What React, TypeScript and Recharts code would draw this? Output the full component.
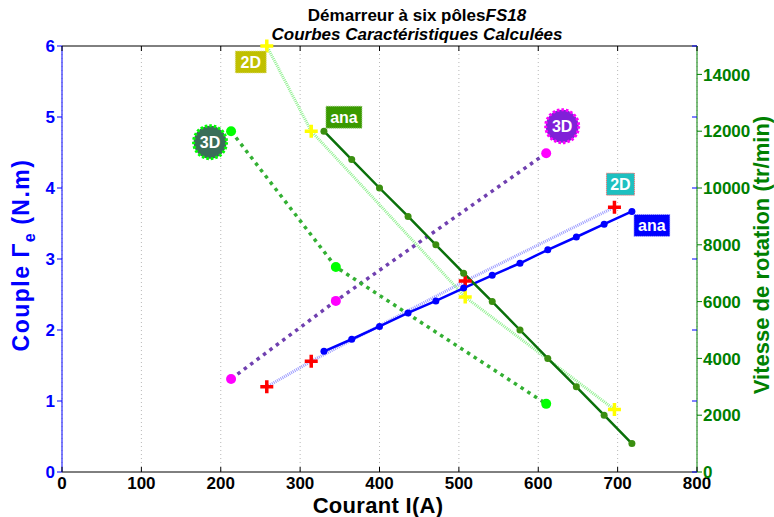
import React from "react";
import { ComposedChart, Line, XAxis, YAxis, CartesianGrid, ReferenceLine } from "recharts";

// courant (A) sur l'axe x
const xTicks = [0, 100, 200, 300, 400, 500, 600, 700, 800];
const coupleTicks = [0, 1, 2, 3, 4, 5, 6];
const speedTicks = [0, 2000, 4000, 6000, 8000, 10000, 12000, 14000];

// modèle analytique
const anaCurrent = [330, 365, 400, 436, 471, 506, 542, 577, 612, 648, 683, 718];
const anaCouple = [1.7, 1.87, 2.05, 2.24, 2.41, 2.59, 2.77, 2.94, 3.13, 3.31, 3.49, 3.67];
const anaSpeed = [12000, 11000, 10000, 9000, 8000, 7000, 6000, 5000, 4000, 3000, 2000, 1000];

// éléments finis 2D
const fe2dCurrent = [258, 314, 508, 696];
const fe2dCouple = [1.2, 1.56, 2.69, 3.73];
const fe2dSpeed = [15000, 12000, 6160, 2200];

// éléments finis 3D
const fe3dCurrent = [213, 345, 610];
const fe3dCouple = [1.31, 2.41, 4.49];
const fe3dSpeed = [12000, 7220, 2400];

const FONT = '"Liberation Sans", Arial, Helvetica, sans-serif';
const PLOT_TOP = 46;
const PLOT_BOTTOM = 472;
const PLOT_RIGHT = 697;
const BLUE = "#0000ff";
const GREEN = "#008000";

const zip = (xs: number[], ys: number[]) => xs.map((x, i) => ({ x, y: ys[i] }));

type TagDef = {
  index: number;
  dx: number;
  dy: number;
  text: string;
  shape: "box" | "circle";
  fill: string;
  edge: string;
  w?: number;
};

function Tag({ x, y, t }: { x: number; y: number; t: TagDef }) {
  const cx = x + t.dx;
  const cy = y + t.dy;
  if (t.shape === "circle") {
    return (
      <g>
        <circle cx={cx} cy={cy} r={16.5} fill={t.fill} stroke={t.edge} strokeWidth={3} strokeDasharray="2.5 2" />
        <text x={cx} y={cy} dy="0.36em" textAnchor="middle" fill="#fff" fontFamily={FONT} fontWeight="bold" fontSize={16}>
          {t.text}
        </text>
      </g>
    );
  }
  const w = t.w ?? 30;
  const h = 22;
  return (
    <g>
      <rect x={cx - w / 2} y={cy - h / 2} width={w} height={h} fill={t.fill} stroke={t.edge} strokeWidth={1} strokeDasharray="1 1" />
      <text x={cx} y={cy} dy="0.36em" textAnchor="middle" fill="#fff" fontFamily={FONT} fontWeight="bold" fontSize={16}>
        {t.text}
      </text>
    </g>
  );
}

const makeDot = (kind: "circle" | "cross", color: string, r: number, tag?: TagDef) => (p: any) => {
  const { cx, cy, index } = p;
  const mark =
    kind === "cross" ? (
      <path d={`M${cx - 6.5},${cy}H${cx + 6.5}M${cx},${cy - 6.5}V${cy + 6.5}`} stroke={color} strokeWidth={3.5} />
    ) : (
      <circle cx={cx} cy={cy} r={r} fill={color} stroke="none" />
    );
  return (
    <g key={`d-${index}`}>
      {mark}
      {tag && tag.index === index ? <Tag x={cx} y={cy} t={tag} /> : null}
    </g>
  );
};

function XTick(props: any) {
  const { x, y, payload } = props;
  return (
    <g>
      <line x1={x} x2={x} y1={PLOT_BOTTOM} y2={PLOT_BOTTOM - 5} stroke="#000" />
      <line x1={x} x2={x} y1={PLOT_TOP} y2={PLOT_TOP + 5} stroke="#000" />
      <text x={x} y={y} dy="0.75em" textAnchor="middle" fill="#000" fontFamily={FONT} fontWeight="bold" fontSize={17}>
        {payload.value}
      </text>
    </g>
  );
}

function LeftTick(props: any) {
  const { x, y, payload } = props;
  return (
    <g>
      <line x1={PLOT_RIGHT - 5} x2={PLOT_RIGHT} y1={y} y2={y} stroke={BLUE} />
      <text x={x} y={y} dy="0.36em" textAnchor="end" fill={BLUE} fontFamily={FONT} fontWeight="bold" fontSize={17}>
        {payload.value}
      </text>
    </g>
  );
}

function RightTick(props: any) {
  const { x, y, payload } = props;
  return (
    <text x={x} y={y} dy="0.36em" textAnchor="start" fill={GREEN} fontFamily={FONT} fontWeight="bold" fontSize={17}>
      {payload.value}
    </text>
  );
}

const CoupleTitle = () => (
  <text
    transform="translate(29,255) rotate(-90)"
    textAnchor="middle"
    fill={BLUE}
    fontFamily={FONT}
    fontWeight="bold"
    fontSize={23}
    letterSpacing={1.5}
  >
    Couple
    <tspan dx={7}>Γ</tspan>
    <tspan dy={6} fontSize={16}>e</tspan>
    <tspan dy={-6} dx={7}>(N.m)</tspan>
  </text>
);

const SpeedTitle = () => (
  <text transform="translate(769,255) rotate(-90)" textAnchor="middle" fill={GREEN} fontFamily={FONT} fontWeight="bold" fontSize={22}>
    Vitesse de rotation (tr/min)
  </text>
);

const CurrentTitle = () => (
  <text x={378} y={512.5} textAnchor="middle" fill="#000" fontFamily={FONT} fontWeight="bold" fontSize={22} letterSpacing={0.3}>
    Courant I(A)
  </text>
);

export default function App() {
  return (
    <div style={{ position: "absolute", left: 0, top: 0, width: 774, height: 517, background: "#fff" }}>
      <ComposedChart width={774} height={517} margin={{ top: PLOT_TOP, right: 0, bottom: 0, left: 0 }}>
        <CartesianGrid yAxisId="left" vertical horizontal={false} stroke="#b8b8b8" strokeDasharray="1 3" />
        <XAxis
          type="number"
          dataKey="x"
          domain={[0, 800]}
          ticks={xTicks}
          height={45}
          tickLine={false}
          tickSize={0}
          tickMargin={4}
          axisLine={{ stroke: "#000" }}
          tick={<XTick />}
          label={<CurrentTitle />}
        />
        <YAxis
          yAxisId="left"
          type="number"
          domain={[0, 6]}
          ticks={coupleTicks}
          width={62}
          stroke={BLUE}
          tickSize={5}
          tickMargin={2}
          tick={<LeftTick />}
          label={<CoupleTitle />}
        />
        <YAxis
          yAxisId="right"
          orientation="right"
          type="number"
          domain={[0, 15000]}
          ticks={speedTicks}
          width={77}
          stroke={GREEN}
          tickSize={5}
          tickMargin={1}
          tick={<RightTick />}
          label={<SpeedTitle />}
        />
        <ReferenceLine yAxisId="left" y={6} stroke="#000" />

        <Line
          yAxisId="left"
          data={zip(fe3dCurrent, fe3dCouple)}
          dataKey="y"
          stroke="#7040b0"
          strokeWidth={3.5}
          strokeDasharray="3.5 4.5"
          dot={makeDot("circle", "#ff00ff", 5, {
            index: 2, dx: 16, dy: -27, text: "3D", shape: "circle", fill: "#8020d8", edge: "#ff00ff",
          })}
          isAnimationActive={false}
        />
        <Line
          yAxisId="right"
          data={zip(fe3dCurrent, fe3dSpeed)}
          dataKey="y"
          stroke="#33b033"
          strokeWidth={3.5}
          strokeDasharray="3.5 4.5"
          dot={makeDot("circle", "#00ff00", 5, {
            index: 0, dx: -21, dy: 11, text: "3D", shape: "circle", fill: "#3a6e58", edge: "#00ff00",
          })}
          isAnimationActive={false}
        />
        <Line
          yAxisId="left"
          data={zip(fe2dCurrent, fe2dCouple)}
          dataKey="y"
          stroke="#9c9cff"
          strokeWidth={3}
          strokeDasharray="1 1"
          dot={makeDot("cross", "#ff0000", 0, {
            index: 3, dx: 6, dy: -23, text: "2D", shape: "box", fill: "#1ec0c0", edge: "#ff6060", w: 28,
          })}
          isAnimationActive={false}
        />
        <Line
          yAxisId="right"
          data={zip(fe2dCurrent, fe2dSpeed)}
          dataKey="y"
          stroke="#90f090"
          strokeWidth={3}
          strokeDasharray="1 1"
          dot={makeDot("cross", "#ffff00", 0, {
            index: 0, dx: -16, dy: 16, text: "2D", shape: "box", fill: "#c0c000", edge: "#e0e090", w: 31,
          })}
          isAnimationActive={false}
        />
        <Line
          yAxisId="left"
          data={zip(anaCurrent, anaCouple)}
          dataKey="y"
          stroke={BLUE}
          strokeWidth={2.5}
          dot={makeDot("circle", BLUE, 3.5, {
            index: 11, dx: 20, dy: 14, text: "ana", shape: "box", fill: BLUE, edge: "#c0c0ff", w: 36,
          })}
          isAnimationActive={false}
        />
        <Line
          yAxisId="right"
          data={zip(anaCurrent, anaSpeed)}
          dataKey="y"
          stroke="#0a700a"
          strokeWidth={2.5}
          dot={makeDot("circle", "#3a8f10", 3.5, {
            index: 0, dx: 20, dy: -14, text: "ana", shape: "box", fill: "#3a9a00", edge: "#a0d080", w: 36,
          })}
          isAnimationActive={false}
        />
      </ComposedChart>
      <svg width={774} height={50} style={{ position: "absolute", left: 0, top: 0, pointerEvents: "none" }}>
        <text x={417} y={21} textAnchor="middle" fill="#000" fontFamily={FONT} fontWeight="bold" fontSize={17}>
          Démarreur à six pôles<tspan fontStyle="italic">FS18</tspan>
        </text>
        <text x={417} y={40} textAnchor="middle" fill="#000" fontFamily={FONT} fontWeight="bold" fontStyle="italic" fontSize={17}>
          Courbes Caractéristiques Calculées
        </text>
      </svg>
    </div>
  );
}
